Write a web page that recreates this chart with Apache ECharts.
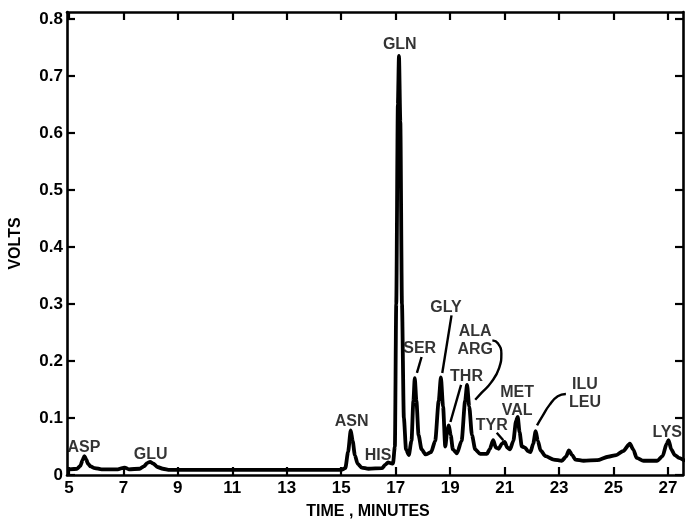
<!DOCTYPE html>
<html>
<head>
<meta charset="utf-8">
<script src="https://cdn.jsdelivr.net/npm/echarts@6/dist/echarts.min.js"></script>
<style>
html,body{margin:0;padding:0;background:#fff;}
#chart{width:685px;height:525px;}
</style>
</head>
<body>
<div id="chart"></div>
<script>
// ---- data ----
const times = [5.0,5.3,5.42,5.5,5.57,5.63,5.7,5.8,5.95,6.2,6.8,6.95,7.05,7.2,7.6,7.75,7.88,7.98,8.1,8.25,8.45,8.7,
  15.0,15.15,15.25,15.35,15.42,15.5,15.6,15.75,16.0,16.5,16.62,16.72,16.8,16.9,16.97,17.02,17.08,17.12,17.17,17.23,17.3,17.38,
  17.48,17.58,17.65,17.7,17.76,17.84,17.95,18.1,18.3,18.45,18.58,18.66,18.74,18.82,18.9,18.95,19.02,19.1,19.25,19.42,19.55,19.62,
  19.7,19.8,19.92,20.1,20.35,20.45,20.58,20.68,20.78,20.9,21.0,21.1,21.2,21.32,21.42,21.48,21.55,21.63,21.75,21.85,21.95,22.05,
  22.14,22.22,22.32,22.5,22.8,23.1,23.25,23.36,23.48,23.6,23.9,24.4,24.8,25.1,25.35,25.6,25.72,25.85,26.1,26.6,26.8,26.95,27.02,
  27.12,27.25,27.4,27.58];
const volts = [0.010,0.011,0.016,0.026,0.033,0.028,0.020,0.015,0.012,0.010,0.010,0.012,0.013,0.010,0.011,0.015,0.021,0.023,0.020,0.014,0.011,0.009,
  0.009,0.012,0.040,0.078,0.060,0.035,0.020,0.013,0.011,0.012,0.018,0.022,0.021,0.020,0.050,0.300,0.650,0.735,0.620,0.300,0.100,0.045,
  0.035,0.060,0.130,0.170,0.130,0.070,0.045,0.036,0.040,0.060,0.130,0.171,0.120,0.050,0.080,0.087,0.070,0.045,0.038,0.060,0.130,0.158,
  0.120,0.070,0.045,0.037,0.037,0.045,0.061,0.048,0.046,0.055,0.058,0.048,0.045,0.060,0.095,0.102,0.075,0.050,0.048,0.042,0.040,0.055,
  0.077,0.060,0.043,0.033,0.027,0.025,0.032,0.043,0.035,0.027,0.025,0.026,0.032,0.035,0.042,0.055,0.045,0.030,0.025,0.025,0.033,0.055,0.061,
  0.045,0.035,0.030,0.026];

const xTicks = [5,7,9,11,13,15,17,19,21,23,25,27];
const yTicks = [0,0.1,0.2,0.3,0.4,0.5,0.6,0.7,0.8];

const peakNames = ['ASP','GLU','ASN','HIS','GLN','SER','GLY','ALA\nARG','THR','TYR','MET\nVAL','ILU\nLEU','LYS'];
const peakLabelTimes = [5.55,8.0,15.38,16.35,17.15,17.88,18.85,19.92,19.6,20.53,21.46,23.95,26.97];
const peakLabelVolts = [0.048,0.036,0.093,0.034,0.754,0.222,0.294,0.236,0.172,0.087,0.128,0.142,0.074];

// leader lines: [times], [volts]
const leaders = [
  {t:[17.95,17.78], v:[0.207,0.179]},                         // SER
  {t:[19.05,18.71], v:[0.280,0.179]},                         // GLY
  {t:[19.40,19.01], v:[0.158,0.093]},                         // THR
  {t:[20.55,20.75,20.88,20.80,20.50,20.15,19.92], v:[0.236,0.231,0.213,0.188,0.162,0.144,0.132]}, // ALA ARG
  {t:[20.71,20.95], v:[0.074,0.061]},                         // TYR
  {t:[23.25,22.95,22.65,22.40,22.19], v:[0.142,0.138,0.123,0.104,0.087]} // ILU LEU
];

const FONT = '"Liberation Sans", Arial, sans-serif';
const chart = echarts.init(document.getElementById('chart'));

const trace = times.map((t,i)=>[t, volts[i]]);
const labelData = peakNames.map((n,i)=>({name:n, value:[peakLabelTimes[i], peakLabelVolts[i]]}));

const series = [{
  type:'line', data:trace, showSymbol:false, smooth:0.25, smoothMonotone:'x',
  lineStyle:{color:'#000', width:3.8, join:'round', cap:'round'}, z:3, silent:true
},{
  type:'scatter', data:labelData, symbolSize:0, silent:true,
  label:{show:true, position:'inside', formatter:p=>p.name, color:'#000',
    fontFamily:FONT, fontWeight:'bold', fontSize:16, lineHeight:18, align:'center'}
}];
leaders.forEach(l=>{
  series.push({type:'line', data:l.t.map((t,i)=>[t,l.v[i]]), showSymbol:false, smooth:0.5,
    lineStyle:{color:'#000', width:2.4}, silent:true});
});

const xCommon = {type:'value', min:4.93, max:27.55,
  axisLine:{show:true, onZero:false, lineStyle:{color:'#000', width:2.6}},
  axisTick:{show:true, inside:true, length:8, customValues:xTicks, lineStyle:{color:'#000', width:2.2}},
  splitLine:{show:false}};
const yCommon = {type:'value', min:0, max:0.812,
  axisLine:{show:true, onZero:false, lineStyle:{color:'#000', width:2.6}},
  axisTick:{show:true, inside:true, length:8, customValues:yTicks, lineStyle:{color:'#000', width:2.2}},
  splitLine:{show:false}};

chart.setOption({
  animation:false,
  backgroundColor:'#fff',
  grid:{left:62, right:2, top:12, bottom:40},
  xAxis:[Object.assign({}, xCommon, {position:'bottom',
      name:'TIME , MINUTES', nameLocation:'middle', nameGap:29,
      nameTextStyle:{color:'#000', fontFamily:FONT, fontWeight:'bold', fontSize:16, padding:[0,14,0,0]},
      axisLabel:{show:true, customValues:xTicks, color:'#000', fontFamily:FONT, fontWeight:'bold', fontSize:17, margin:5,
        formatter:v=>String(v)}}),
    Object.assign({}, xCommon, {position:'top', axisLabel:{show:false}})],
  yAxis:[Object.assign({}, yCommon, {position:'left',
      name:'VOLTS', nameLocation:'middle', nameGap:43, nameRotate:90,
      nameTextStyle:{color:'#000', fontFamily:FONT, fontWeight:'bold', fontSize:16},
      axisLabel:{show:true, customValues:yTicks, color:'#000', fontFamily:FONT, fontWeight:'bold', fontSize:17, margin:4,
        formatter:v=>v===0?'0':String(v)}}),
    Object.assign({}, yCommon, {position:'right', axisLabel:{show:false}})],
  series:series
});
</script>
</body>
</html>
